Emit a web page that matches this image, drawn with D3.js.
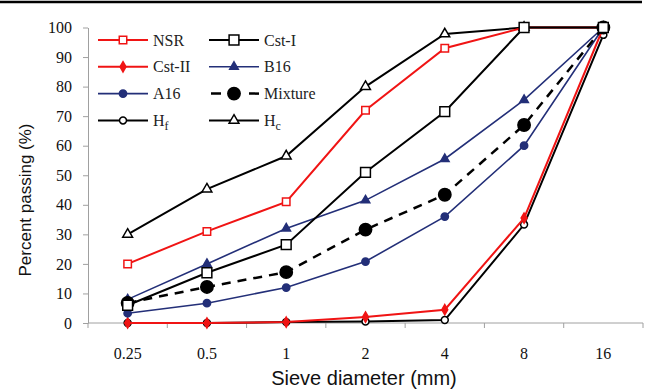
<!DOCTYPE html>
<html>
<head>
<meta charset="utf-8">
<script src="https://cdn.jsdelivr.net/npm/d3@7"></script>
<style>
  body { margin: 0; background: #fff; }
  svg { display: block; }
</style>
</head>
<body>
<div id="chart"></div>
<script>
// Data
const sieve = ["0.25", "0.5", "1", "2", "4", "8", "16"];
const yTicks = [0, 10, 20, 30, 40, 50, 60, 70, 80, 90, 100];
const nsr = [20, 31, 41, 72, 93, 100, 100];
const cstI = [6, 17, 26.5, 51, 71.5, 100, 100];
const cstII = [0, 0, 0.3, 2, 4.5, 35.5, 100];
const b16 = [8, 20, 32, 41.5, 55.5, 75.5, 100];
const a16 = [3.3, 6.7, 12, 20.8, 36, 60, 100];
const mixture = [6.8, 12.2, 17.2, 31.6, 43.4, 67, 100];
const hf = [0, 0, 0.3, 0.5, 1, 33.3, 97.5];
const hc = [30, 45.3, 56.5, 80, 97.8, 100, 100];

const red = "#f01414", navy = "#232f78";

const series = [
  {name: "Hf", sub: "f", values: hf, color: "#000", sym: d3.symbolCircle, size: 38, fill: "#fff", width: 2},
  {name: "Hc", sub: "c", values: hc, color: "#000", sym: d3.symbolTriangle, size: 42, fill: "#fff", width: 2},
  {name: "NSR", values: nsr, color: red, sym: d3.symbolSquare, size: 56, fill: "#fff", width: 2},
  {name: "Cst-II", values: cstII, color: red, sym: d3.symbolDiamond, size: 30, fill: red, width: 2},
  {name: "B16", values: b16, color: navy, sym: d3.symbolTriangle, size: 32, fill: navy, width: 1.6},
  {name: "A16", values: a16, color: navy, sym: d3.symbolCircle, size: 42, fill: navy, width: 1.6},
  {name: "Mixture", values: mixture, color: "#000", sym: d3.symbolCircle, size: 120, fill: "#000", width: 2.5, dash: "9,7"},
  {name: "Cst-I", values: cstI, color: "#000", sym: d3.symbolSquare, size: 96, fill: "#fff", width: 2}
];

const width = 646, height = 389;
const svg = d3.select("#chart").append("svg")
  .attr("width", width).attr("height", height);

// top rule
svg.append("line")
  .attr("x1", 0).attr("x2", 642).attr("y1", 2).attr("y2", 2)
  .attr("stroke", "#000").attr("stroke-width", 2.5);

const x = d3.scaleBand().domain(sieve).range([88, 643]);
const y = d3.scaleLinear().domain([0, 100]).range([323, 27.5]);
const cx = d => x(d) + x.bandwidth() / 2;

const axisColor = "#a0a0a0";
const serif = "'Liberation Serif', 'Times New Roman', serif";
const sans = "'Liberation Sans', Arial, sans-serif";

// y axis
const yAxis = svg.append("g")
  .attr("transform", "translate(88,0)")
  .call(d3.axisLeft(y).tickValues(yTicks).tickSize(5).tickSizeOuter(0).tickPadding(11));
yAxis.selectAll("path, line").attr("stroke", axisColor);
yAxis.selectAll("text")
  .attr("font-family", serif).attr("font-size", 16).attr("fill", "#111");

// x axis
svg.append("line")
  .attr("x1", 88).attr("x2", 643).attr("y1", y(0)).attr("y2", y(0))
  .attr("stroke", axisColor);
svg.selectAll(".xtick")
  .data(sieve.map(s => x(s) + x.bandwidth()).concat([88]))
  .enter().append("line")
  .attr("x1", d => d).attr("x2", d => d)
  .attr("y1", y(0)).attr("y2", y(0) + 5)
  .attr("stroke", axisColor);
svg.selectAll(".xlab")
  .data(sieve)
  .enter().append("text")
  .attr("x", d => cx(d)).attr("y", 359)
  .attr("text-anchor", "middle")
  .attr("font-family", serif).attr("font-size", 16).attr("fill", "#111")
  .text(d => d);

// axis titles
svg.append("text")
  .attr("x", 364).attr("y", 385)
  .attr("text-anchor", "middle")
  .attr("font-family", sans).attr("font-size", 20).attr("fill", "#111")
  .text("Sieve diameter (mm)");
svg.append("text")
  .attr("transform", "translate(31,200) rotate(-90)")
  .attr("text-anchor", "middle")
  .attr("font-family", sans).attr("font-size", 17).attr("fill", "#111")
  .text("Percent passing (%)");

// lines and markers
const line = d3.line().x((d, i) => cx(sieve[i])).y(d => y(d));
series.forEach(s => {
  svg.append("path")
    .attr("d", line(s.values))
    .attr("fill", "none")
    .attr("stroke", s.color)
    .attr("stroke-width", s.width)
    .attr("stroke-dasharray", s.dash || null);
  svg.selectAll(null)
    .data(s.values)
    .enter().append("path")
    .attr("d", d3.symbol().type(s.sym).size(s.size))
    .attr("transform", (d, i) => "translate(" + [cx(sieve[i]), y(d)] + ")")
    .attr("fill", s.fill)
    .attr("stroke", s.color)
    .attr("stroke-width", 1.5);
});

// legend
const legendOrder = ["NSR", "Cst-I", "Cst-II", "B16", "A16", "Mixture", "Hf", "Hc"];
const byName = new Map(series.map(s => [s.name, s]));
legendOrder.forEach((n, i) => {
  const s = byName.get(n);
  const col = i % 2, row = Math.floor(i / 2);
  const x0 = col ? 209 : 98, yy = 40 + row * 26.8;
  const g = svg.append("g").attr("transform", "translate(" + [x0, yy] + ")");
  g.append("line")
    .attr("x1", 0).attr("x2", 50)
    .attr("stroke", s.color).attr("stroke-width", s.width)
    .attr("stroke-dasharray", s.dash ? "10,9" : null)
    .attr("stroke-dashoffset", s.dash ? -2 : null);
  g.append("path")
    .attr("d", d3.symbol().type(s.sym).size(s.size))
    .attr("transform", "translate(25,0)")
    .attr("fill", s.fill).attr("stroke", s.color).attr("stroke-width", 1.5);
  const t = g.append("text")
    .attr("x", 55).attr("y", 5.5)
    .attr("font-family", serif).attr("font-size", 16).attr("fill", "#222");
  if (s.sub) {
    t.append("tspan").text("H");
    t.append("tspan").attr("dy", 4).attr("font-size", 12).text(s.sub);
  } else {
    t.text(s.name);
  }
});
</script>
</body>
</html>
